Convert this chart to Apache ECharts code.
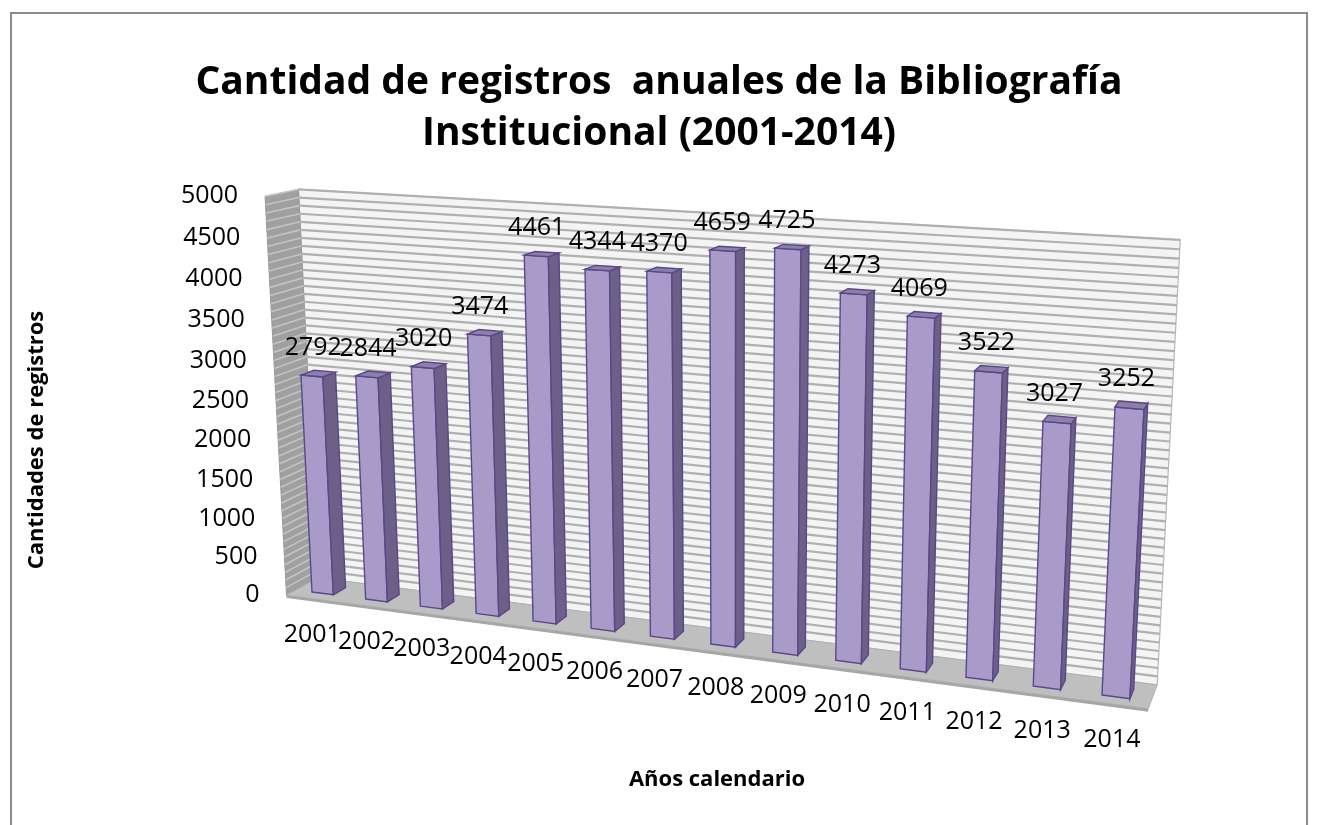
<!DOCTYPE html>
<html><head><meta charset="utf-8">
<script src="https://cdn.jsdelivr.net/npm/echarts@6/dist/echarts.min.js"></script>
<style>html,body{margin:0;padding:0;background:#fff}#c{width:1318px;height:825px}</style>
</head><body><div id="c"></div>
<script>
// ---- data ----
const years = ['2001','2002','2003','2004','2005','2006','2007','2008','2009','2010','2011','2012','2013','2014'];
const records = [2792,2844,3020,3474,4461,4344,4370,4659,4725,4273,4069,3522,3027,3252];
const yTicks = [0,500,1000,1500,2000,2500,3000,3500,4000,4500,5000];
const titleText = 'Cantidad de registros  anuales de la Bibliografía\nInstitucional (2001-2014)';
const yTitle = 'Cantidades de registros';
const xTitle = 'Años calendario';

// ---- 3D view (Excel-like perspective) ----
// calibration of the bar front plane: (category position u, value v) -> screen
const CALIB = [
  {u:0.3, v:0,    x:312,  y:592},
  {u:0.3, v:2792, x:301,  y:375},
  {u:13.3,v:0,    x:1102, y:695},
  {u:13.3,v:3252, x:1115, y:407}
];
const DEPTH_VP = [1430, -45];  // vanishing point of the depth direction
const DEPTH_K = 0.028;
const FLOOR_W0 = -0.3, FLOOR_W1 = 0.7, BAR_W = 0.4, BAR_L = 0.3, BAR_R = 0.7;
const FONT = '"Open Sans", "Noto Sans", sans-serif';

function solve(A, b){
  const n=b.length; A=A.map((r,i)=>r.concat([b[i]]));
  for(let c=0;c<n;c++){
    let p=c; for(let r=c+1;r<n;r++) if(Math.abs(A[r][c])>Math.abs(A[p][c])) p=r;
    [A[c],A[p]]=[A[p],A[c]];
    for(let r=0;r<n;r++){ if(r===c) continue; const f=A[r][c]/A[c][c]; for(let k=c;k<=n;k++) A[r][k]-=f*A[c][k]; }
  }
  return A.map((r,i)=>r[n]/r[i]);
}
function makeProj(api){
  const c0 = api.coord([0,0]);
  const bw = api.size([1,0])[0];
  const plane = (u,v)=>[c0[0]+(u-0.5)*bw, api.coord([0,v])[1]];
  const A=[],B=[];
  CALIB.forEach(p=>{
    const [x,y]=plane(p.u,p.v);
    A.push([x,y,1,0,0,0,-p.x*x,-p.x*y]); B.push(p.x);
    A.push([0,0,0,x,y,1,-p.y*x,-p.y*y]); B.push(p.y);
  });
  const s=solve(A,B);
  let H=[s[0],s[1],s[2],s[3],s[4],s[5],s[6],s[7],1];
  const r=plane(CALIB[0].u,CALIB[0].v);
  const z0=H[6]*r[0]+H[7]*r[1]+H[8];
  H=H.map(h=>h/z0);
  return function(u,v,w){
    const [x,y]=plane(u,v);
    const hx=H[0]*x+H[1]*y+H[2]+w*DEPTH_K*DEPTH_VP[0];
    const hy=H[3]*x+H[4]*y+H[5]+w*DEPTH_K*DEPTH_VP[1];
    const hz=H[6]*x+H[7]*y+H[8]+w*DEPTH_K;
    return [hx/hz, hy/hz];
  };
}
const poly=(pts,fill,stroke,lw)=>({type:'polygon',shape:{points:pts},style:{fill:fill,stroke:stroke||null,lineWidth:lw||0}});
const line=(a,b,color,lw)=>({type:'line',shape:{x1:a[0],y1:a[1],x2:b[0],y2:b[1]},style:{stroke:color,lineWidth:lw}});

function renderWalls(params, api){
  const P=makeProj(api);
  const n=years.length, vmax=yTicks[yTicks.length-1];
  const ch=[];
  // back wall
  ch.push(poly([P(0,0,FLOOR_W1),P(n,0,FLOOR_W1),P(n,vmax,FLOOR_W1),P(0,vmax,FLOOR_W1)],'#f4f4f4','#b8b8b8',1.2));
  // side wall
  ch.push(poly([P(0,0,FLOOR_W0),P(0,0,FLOOR_W1),P(0,vmax,FLOOR_W1),P(0,vmax,FLOOR_W0)],'#a0a0a0','#979797',1));
  for(let v=100; v<=vmax; v+=100){
    ch.push(line(P(0,v,FLOOR_W1),P(n,v,FLOOR_W1),'#b0b0b0',2.2));
    ch.push(line(P(0,v,FLOOR_W0),P(0,v,FLOOR_W1),'#c4c4c4',1.6));
  }
  // floor
  ch.push(poly([P(0,0,FLOOR_W0),P(n,0,FLOOR_W0),P(n,0,FLOOR_W1),P(0,0,FLOOR_W1)],'#bfbfbf','#b0b0b0',1));
  ch.push(poly([P(0,0,FLOOR_W0),P(n,0,FLOOR_W0),P(n,-35,FLOOR_W0),P(0,-35,FLOOR_W0)],'#a6a6a6',null,0));
  return {type:'group',children:ch};
}
function renderTicks(params, api){
  const P=makeProj(api);
  const v=api.value(1);
  const p=P(0,v,FLOOR_W0);
  return {type:'text',x:p[0]-27,y:p[1],style:{text:String(v),fill:'#000',font:'25px '+FONT,align:'right',verticalAlign:'middle'}};
}
function renderBars(params, api){
  const P=makeProj(api);
  const i=api.value(0), v=api.value(1);
  const L=i+BAR_L, R=i+BAR_R, D=BAR_W;
  const edge='#5a4787';
  const front=poly([P(L,0,0),P(R,0,0),P(R,v,0),P(L,v,0)],'#a99bc9',edge,1.4);
  const side=poly([P(R,0,0),P(R,0,D),P(R,v,D),P(R,v,0)],'#6c6088',edge,1.4);
  const top=poly([P(L,v,0),P(R,v,0),P(R,v,D),P(L,v,D)],'#8b7fac',edge,1.4);
  const lp=P(i+0.5,v,D/2);
  const vl={type:'text',x:lp[0]-5,y:lp[1]-26,z2:10,style:{text:String(v),fill:'#000',font:'25px '+FONT,align:'center',verticalAlign:'middle'}};
  const cp=P(i+0.5,0,FLOOR_W0);
  const cl={type:'text',x:cp[0]-1,y:cp[1]+36,z2:10,style:{text:years[i],fill:'#000',font:'25px '+FONT,align:'center',verticalAlign:'middle'}};
  return {type:'group',children:[front,side,top,vl,cl]};
}

const chart=echarts.init(document.getElementById('c'),null,{renderer:'canvas'});
chart.setOption({
  animation:false,
  backgroundColor:'#ffffff',
  title:{text:titleText,left:'center',top:52,textStyle:{fontFamily:FONT,fontWeight:'bold',fontSize:39,color:'#000',lineHeight:51}},
  grid:{left:300,right:160,top:200,bottom:230},
  xAxis:{type:'category',data:years,show:false},
  yAxis:{type:'value',min:0,max:5000,interval:500,show:false},
  graphic:[
    {type:'rect',shape:{x:11,y:13,width:1296,height:840},style:{fill:null,stroke:'#8c8c8c',lineWidth:2},silent:true},
    {type:'text',x:37,y:440,rotation:Math.PI/2,style:{text:yTitle,font:'bold 22px '+FONT,fill:'#000',align:'center',verticalAlign:'middle'}},
    {type:'text',x:717,y:780,style:{text:xTitle,font:'bold 22px '+FONT,fill:'#000',align:'center',verticalAlign:'middle'}}
  ],
  series:[
    {type:'custom',name:'walls',renderItem:renderWalls,data:[[0,0]],silent:true,z:1},
    {type:'custom',name:'ticks',renderItem:renderTicks,data:yTicks.map(v=>[0,v]),silent:true,z:2},
    {type:'custom',name:'registros',renderItem:renderBars,data:records.map((v,i)=>[i,v]),silent:true,z:3}
  ]
});
</script>
</body></html>
